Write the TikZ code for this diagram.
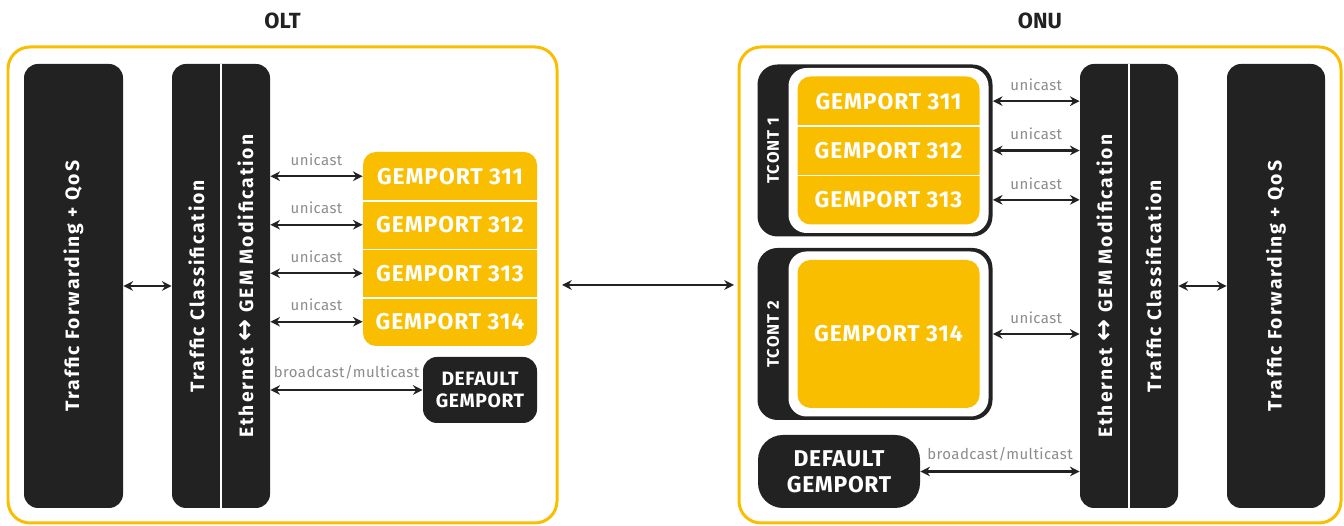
\documentclass[tikz,border=0pt]{standalone}
\usepackage{fontspec}
\setmainfont{Fira Sans}
\newfontfamily\arrowfont{DejaVu Sans}
\usetikzlibrary{arrows.meta}

\definecolor{gold}{RGB}{250,190,0}
\definecolor{ink}{RGB}{34,34,34}
\definecolor{castgray}{RGB}{140,140,140}

\begin{document}
\begin{tikzpicture}[
		frame/.style={draw=gold, line width=1.7pt, rounded corners=0.44cm},
		title/.style={text=ink, font=\bfseries\fontsize{12.5}{14}\selectfont},
		blkbox/.style={fill=ink, rounded corners=0.28cm, text=white},
		goldstack/.style={fill=gold, rounded corners=0.26cm},
		gemrow/.style={text=white, inner sep=0pt, font=\bfseries\fontsize{13}{15}\selectfont\addfontfeatures{LetterSpace=4}},
		vlabel/.style={text=white, rotate=90, font=\bfseries\fontsize{11}{13}\selectfont\addfontfeatures{LetterSpace=10}},
		tcontlabel/.style={text=white, rotate=90, font=\bfseries\fontsize{9.5}{11}\selectfont\addfontfeatures{LetterSpace=6}},
		castlabel/.style={above=2pt, text=castgray, font=\fontsize{8.5}{10}\selectfont\addfontfeatures{LetterSpace=3}},
		link/.style={draw=ink, line width=1.4pt, {Stealth[length=5.5pt,width=5.5pt]}-{Stealth[length=5.5pt,width=5.5pt]}}
		]
		
		\fill[white] (0,0) rectangle (26.88,10.52);
		\useasboundingbox (0,0) rectangle (26.88,10.52);
		
		% OLT side
		\node[frame, minimum width=10.98cm, minimum height=9.52cm]
		(olt) at (5.65,4.82) {};
		\node[title] (olttitle) at ([yshift=0.5cm]olt.north) {OLT};
		
		\node[blkbox, minimum width=1.98cm, minimum height=8.88cm]
		(oltfwd) at (1.47,4.80) {};
		\node[vlabel] at (oltfwd) {Traffic Forwarding + QoS};
		
		\node[blkbox, minimum width=1.96cm, minimum height=8.88cm]
		(oltproc) at (4.42,4.80) {};
		\draw[white, line width=0.9pt] (oltproc.north) -- (oltproc.south);
		\node[vlabel] at ([xshift=-0.49cm]oltproc.center) {Traffic Classification};
		\node[vlabel] at ([xshift=0.49cm]oltproc.center) {Ethernet {\arrowfont\fontsize{15}{15}\selectfont ↔} GEM Modification};
		
		\draw[link] (oltfwd) -- (oltproc);
		
		\node[goldstack, minimum width=3.48cm, minimum height=3.88cm]
		(oltstack) at (9.00,5.54) {};
		\node[gemrow, minimum width=3.48cm, minimum height=0.97cm]
		(olt311) at (9.00,6.995) {GEMPORT 311};
		\node[gemrow, minimum width=3.48cm, minimum height=0.97cm]
		(olt312) at (9.00,6.025) {GEMPORT 312};
		\node[gemrow, minimum width=3.48cm, minimum height=0.97cm]
		(olt313) at (9.00,5.055) {GEMPORT 313};
		\node[gemrow, minimum width=3.48cm, minimum height=0.97cm]
		(olt314) at (9.00,4.085) {GEMPORT 314};
		\draw[white, line width=0.8pt] (olt311.south west) -- (olt311.south east);
		\draw[white, line width=0.8pt] (olt312.south west) -- (olt312.south east);
		\draw[white, line width=0.8pt] (olt313.south west) -- (olt313.south east);
		
		\node[blkbox, minimum width=2.28cm, minimum height=1.32cm, align=center,
		font=\bfseries\fontsize{11}{13}\selectfont\addfontfeatures{LetterSpace=3}]
		(oltdef) at (9.60,2.72) {DEFAULT\\GEMPORT};
		
		\draw[link] (oltproc.east |- olt311) -- node[castlabel]{unicast} (olt311.west);
		\draw[link] (oltproc.east |- olt312) -- node[castlabel]{unicast} (olt312.west);
		\draw[link] (oltproc.east |- olt313) -- node[castlabel]{unicast} (olt313.west);
		\draw[link] (oltproc.east |- olt314) -- node[castlabel]{unicast} (olt314.west);
		\draw[link] (oltproc.east |- oltdef) -- node[castlabel]{broadcast/multicast} (oltdef.west);
		
		% ONU side
		\node[frame, minimum width=12.04cm, minimum height=9.52cm]
		(onu) at (20.80,4.82) {};
		\node[title] (onutitle) at ([yshift=0.5cm]onu.north) {ONU};
		
		\draw[link, shorten <=2pt, shorten >=2pt] (olt.east) -- (onu.west);
		
		\node[blkbox, rounded corners=0.4cm, minimum width=4.70cm, minimum height=3.44cm]
		(tcont1) at (17.50,7.51) {};
		\node[fill=white, rounded corners=0.36cm, minimum width=4.00cm, minimum height=3.30cm, anchor=east]
		(tcont1in) at ([xshift=-0.08cm]tcont1.east) {};
		\node[tcontlabel] at ([xshift=0.32cm]tcont1.west) {TCONT 1};
		\node[goldstack, minimum width=3.64cm, minimum height=2.96cm]
		(onustack1) at (tcont1in) {};
		\node[gemrow, minimum width=3.64cm, minimum height=0.987cm]
		(onu311) at ([yshift=0.987cm]onustack1.center) {GEMPORT 311};
		\node[gemrow, minimum width=3.64cm, minimum height=0.987cm]
		(onu312) at (onustack1.center) {GEMPORT 312};
		\node[gemrow, minimum width=3.64cm, minimum height=0.987cm]
		(onu313) at ([yshift=-0.987cm]onustack1.center) {GEMPORT 313};
		\draw[white, line width=0.8pt] (onu311.south west) -- (onu311.south east);
		\draw[white, line width=0.8pt] (onu312.south west) -- (onu312.south east);
		
		\node[blkbox, rounded corners=0.4cm, minimum width=4.70cm, minimum height=3.44cm]
		(tcont2) at (17.50,3.84) {};
		\node[fill=white, rounded corners=0.36cm, minimum width=4.00cm, minimum height=3.30cm, anchor=east]
		(tcont2in) at ([xshift=-0.08cm]tcont2.east) {};
		\node[tcontlabel] at ([xshift=0.32cm]tcont2.west) {TCONT 2};
		\node[goldstack, minimum width=3.64cm, minimum height=2.96cm]
		(onustack2) at (tcont2in) {};
		\node[gemrow] (onu314) at (onustack2) {GEMPORT 314};
		
		\node[blkbox, rounded corners=0.5cm, minimum width=3.24cm, minimum height=1.46cm, align=center,
		font=\bfseries\fontsize{13}{15}\selectfont\addfontfeatures{LetterSpace=3}]
		(onudef) at (16.78,1.09) {DEFAULT\\GEMPORT};
		
		\node[blkbox, minimum width=1.96cm, minimum height=8.88cm]
		(onuproc) at (22.58,4.80) {};
		\draw[white, line width=0.9pt] (onuproc.north) -- (onuproc.south);
		\node[vlabel] at ([xshift=-0.49cm]onuproc.center) {Ethernet {\arrowfont\fontsize{15}{15}\selectfont ↔} GEM Modification};
		\node[vlabel] at ([xshift=0.49cm]onuproc.center) {Traffic Classification};
		
		\node[blkbox, minimum width=1.96cm, minimum height=8.88cm]
		(onufwd) at (25.52,4.80) {};
		\node[vlabel] at (onufwd) {Traffic Forwarding + QoS};
		
		\draw[link] (onuproc) -- (onufwd);
		
		\draw[link] (tcont1.east |- onu311) -- node[castlabel]{unicast} (onu311 -| onuproc.west);
		\draw[link] (tcont1.east |- onu312) -- node[castlabel]{unicast} (onu312 -| onuproc.west);
		\draw[link] (tcont1.east |- onu313) -- node[castlabel]{unicast} (onu313 -| onuproc.west);
		\draw[link] (tcont2.east) -- node[castlabel]{unicast} (tcont2.east -| onuproc.west);
		\draw[link] (onudef.east) -- node[castlabel]{broadcast/multicast} (onudef.east -| onuproc.west);
		
	\end{tikzpicture}
\end{document}
